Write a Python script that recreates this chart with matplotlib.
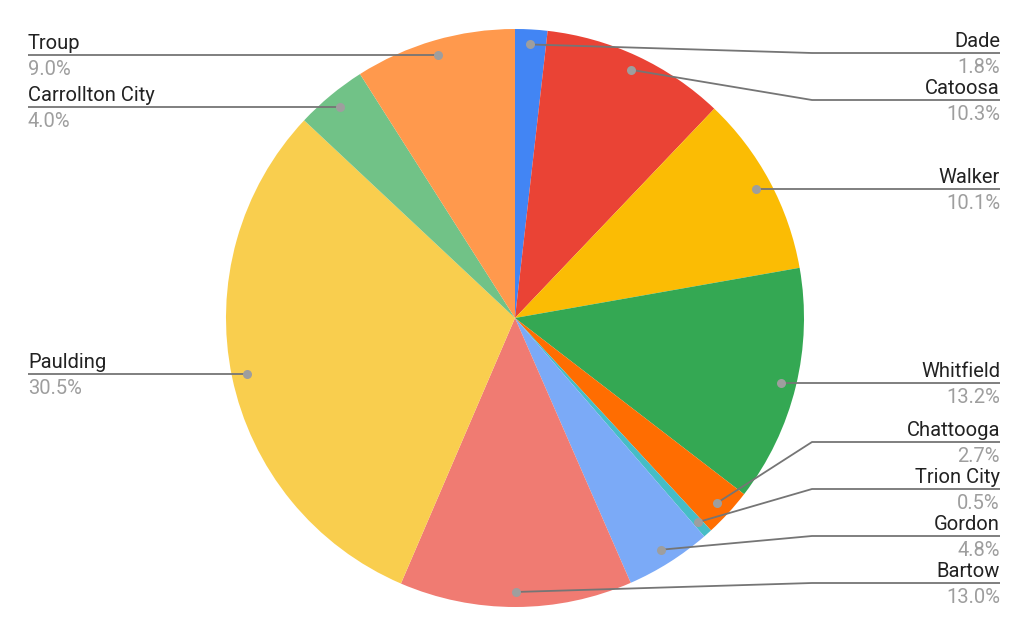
import numpy as np
import matplotlib
matplotlib.use('Agg')
import matplotlib.pyplot as plt

plt.rcParams['font.family'] = ['Roboto', 'DejaVu Sans']

# data
counties = ['Dade', 'Catoosa', 'Walker', 'Whitfield', 'Chattooga', 'Trion City',
            'Gordon', 'Bartow', 'Paulding', 'Carrollton City', 'Troup']
shares = [1.8, 10.3, 10.1, 13.2, 2.7, 0.5, 4.8, 13.0, 30.5, 4.0, 9.0]
colors = ['#4285F4', '#EA4335', '#FBBC04', '#34A853', '#FF6D01', '#46BDC6',
          '#7BAAF7', '#F07B72', '#F9CE4E', '#71C287', '#FF994D']

# layout (pixel coords, y down)
W, H = 1024, 635
cx, cy, rad = 515, 318, 289
gap = 47
top_y, bot_y = 53, 583


def spread(ys):
    '''
    Push label ys apart so they keep a minimum gap
    '''
    out = list(ys)
    for i in range(len(out)):
        lo = top_y if i == 0 else out[i - 1] + gap
        out[i] = max(out[i], lo)
    for i in range(len(out) - 1, -1, -1):
        hi = bot_y if i == len(out) - 1 else out[i + 1] - gap
        out[i] = min(out[i], hi)
    return out


fig = plt.figure(figsize=(W / 100, H / 100), dpi=100)
ax = fig.add_axes([0, 0, 1, 1])
wedges, _ = ax.pie(shares, colors=colors, startangle=-90, counterclock=True,
                   center=(cx, cy), radius=rad, frame=True,
                   wedgeprops=dict(linewidth=0))
ax.set_xlim(0, W)
ax.set_ylim(H, 0)
ax.set_aspect('equal')
ax.axis('off')

total = sum(shares)
#Dot positions along each wedge's middle angle
dots = []
for w in wedges:
    mid = np.deg2rad((w.theta1 + w.theta2) / 2.0)
    dots.append((cx + 0.948 * rad * np.cos(mid), cy + 0.948 * rad * np.sin(mid)))

line_c = '#757575'
name_c = '#222222'
pct_c = '#9E9E9E'

for side in ('left', 'right'):
    idx = [i for i, d in enumerate(dots) if (d[0] < cx) == (side == 'left')]
    idx.sort(key=lambda i: dots[i][1])
    ys = spread([dots[i][1] for i in idx])
    for i, ly in zip(idx, ys):
        dx, dy = dots[i]
        if side == 'right':
            xs = [dx, 812, 1000]
            tx, ha = 1000, 'right'
        else:
            xs = [dx, 212, 28]
            tx, ha = 28, 'left'
        ax.plot(xs, [dy, ly, ly], color=line_c, lw=1.3, solid_capstyle='butt', zorder=3)
        ax.plot(dx, dy, 'o', ms=6.5, color='#9E9E9E', mec='none', zorder=4)
        ax.text(tx, ly - 6, counties[i], ha=ha, va='baseline', fontsize=14.5, color=name_c)
        ax.text(tx, ly + 5, '%.1f%%' % (100.0 * shares[i] / total), ha=ha, va='top',
                fontsize=14.5, color=pct_c)

fig.savefig('out.png', dpi=100)
